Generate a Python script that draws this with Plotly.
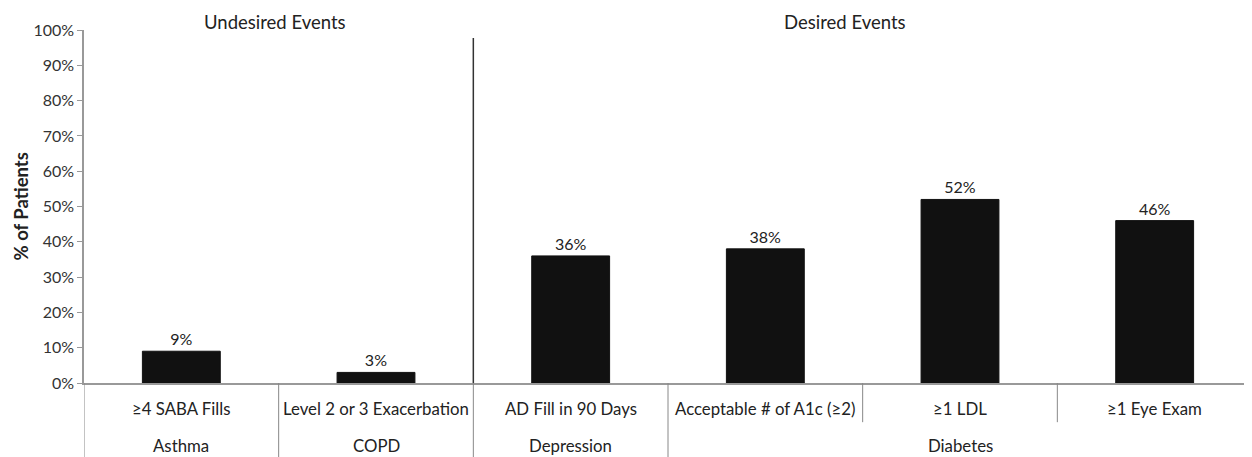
import plotly.graph_objects as go

categories = ["≥4 SABA Fills", "Level 2 or 3 Exacerbation", "AD Fill in 90 Days",
              "Acceptable # of A1c (≥2)", "≥1 LDL", "≥1 Eye Exam"]
values = [0.09, 0.03, 0.36, 0.38, 0.52, 0.46]
value_labels = ["9%", "3%", "36%", "38%", "52%", "46%"]
groups = ["Asthma", "COPD", "Depression", "Diabetes"]
group_spans = [(0, 0), (1, 1), (2, 2), (3, 5)]
section_titles = ["Undesired Events", "Desired Events"]
section_centers = [0.48, 3.41]

FONT = "Lato"
fig = go.Figure()
fig.add_trace(go.Bar(
    x=list(range(len(categories))), y=values,
    marker=dict(color="#111111", line=dict(color="#111111", width=1)),
    text=value_labels, textposition="outside",
    textfont=dict(family=FONT, size=16, color="#222"),
    cliponaxis=False, width=0.4,
))

ann = []
for i, c in enumerate(categories):
    ann.append(dict(x=i, y=-0.071, xref="x", yref="paper", text=c, showarrow=False,
                    font=dict(family=FONT, size=16.8, color="#222"), yanchor="middle"))
for g, (a, b) in zip(groups, group_spans):
    ann.append(dict(x=(a + b) / 2, y=-0.178, xref="x", yref="paper", text=g, showarrow=False,
                    font=dict(family=FONT, size=16.8, color="#222"), yanchor="middle"))
for t, xc in zip(section_titles, section_centers):
    ann.append(dict(x=xc, y=1.023, xref="x", yref="paper", text=t, showarrow=False,
                    font=dict(family=FONT, size=18.5, color="#222"), yanchor="middle"))
ann.append(dict(x=0, y=0.5, xref="paper", yref="paper", text="<b>% of Patients</b>",
                textangle=-90, showarrow=False, xshift=-64, xanchor="center", yanchor="middle",
                font=dict(family=FONT, size=18.5, color="#222")))

shapes = []
shapes.append(dict(type="line", xref="x", yref="paper", x0=1.5, x1=1.5, y0=0, y1=0.977,
                   line=dict(color="#333", width=1.5)))
for xb in [-0.5, 0.5, 1.5, 2.5]:
    shapes.append(dict(type="line", xref="x", yref="paper", x0=xb, x1=xb, y0=0, y1=-0.21,
                       line=dict(color="#888", width=1)))
for xb in [3.5, 4.5]:
    shapes.append(dict(type="line", xref="x", yref="paper", x0=xb, x1=xb, y0=0, y1=-0.111,
                       line=dict(color="#888", width=1)))

# page body has an 8px margin, so the figure is offset by (8, 8)
fig.update_layout(
    width=1244, height=449,
    margin=dict(l=76, r=0, t=22, b=74),
    paper_bgcolor="white", plot_bgcolor="white",
    showlegend=False, bargap=0.6,
    annotations=ann, shapes=shapes,
    xaxis=dict(range=[-0.5, 5.5], showticklabels=False, showline=True, automargin=False,
               linecolor="#999", linewidth=1.5, ticks="", showgrid=False, zeroline=False),
    yaxis=dict(range=[0, 1], dtick=0.1, tickformat=".0%", showline=True, automargin=False,
               linecolor="#999", linewidth=1.5, ticks="outside", ticklen=5, tickcolor="#999",
               showgrid=False, zeroline=False,
               tickfont=dict(family=FONT, size=16, color="#333")),
)
fig.write_html("out.html")
